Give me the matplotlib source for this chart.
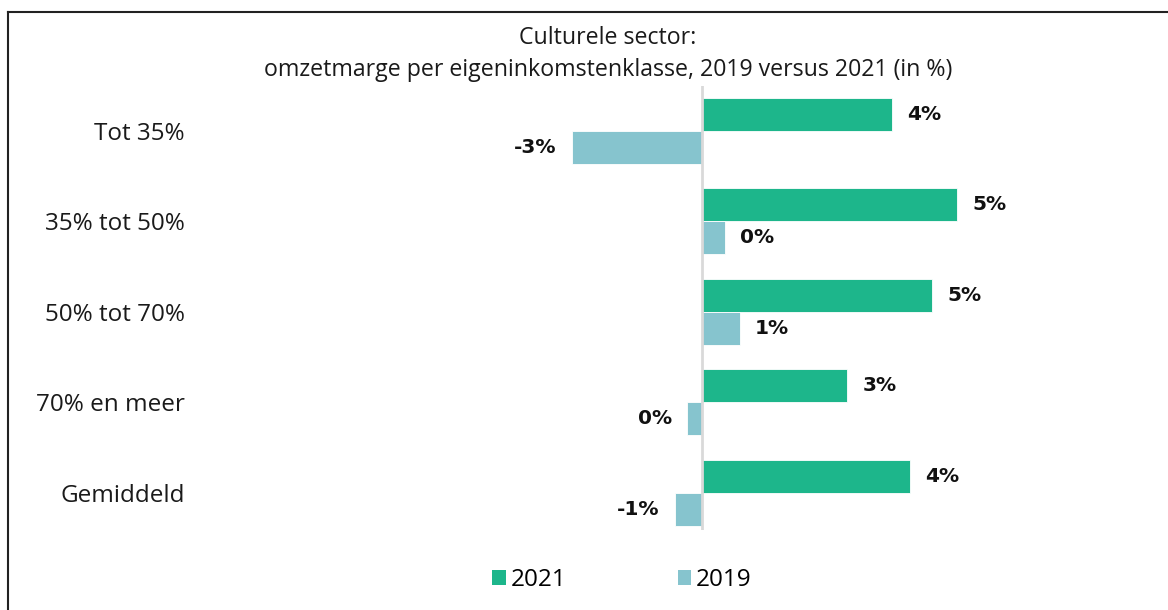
import matplotlib
matplotlib.use("Agg")
import matplotlib.pyplot as plt
from matplotlib.patches import Patch
from matplotlib.lines import Line2D
import numpy as np

categories = ["Tot 35%", "35% tot 50%", "50% tot 70%", "70% en meer", "Gemiddeld"]
values_2021 = [3.8, 5.1, 4.6, 2.9, 4.15]
values_2019 = [-2.6, 0.45, 0.75, -0.3, -0.55]
series_names = ["2021", "2019"]
title_lines = ["Culturele sector:", "omzetmarge per eigeninkomstenklasse, 2019 versus 2021 (in %)"]

green = "#1DB68B"
blue = "#86C4CE"
FONT = "Open Sans"

W, H = 1168, 610
fig = plt.figure(figsize=(W / 100, H / 100), dpi=100)

ax_left, ax_right = 200, 1160
ax_top, ax_bottom = 86, 530
ax = fig.add_axes([ax_left / W, 1 - ax_bottom / H, (ax_right - ax_left) / W, (ax_bottom - ax_top) / H])

pxper = 50.0
zero_px = 702
ax.set_xlim(-(zero_px - ax_left) / pxper, (ax_right - zero_px) / pxper)
grp_px = 90.4
first_px = 131
ax.set_ylim((ax_bottom - first_px) / grp_px, (ax_top - first_px) / grp_px)

y = np.arange(len(categories))
bh = 33 / grp_px
ax.barh(y - bh / 2, values_2021, height=bh, color=green, edgecolor="white", linewidth=0.6, zorder=2)
ax.barh(y + bh / 2, values_2019, height=bh, color=blue, edgecolor="white", linewidth=0.6, zorder=2)
ax.axvline(0, color="#D9D9D9", lw=2, zorder=3)

for vals, off in ((values_2021, -bh / 2), (values_2019, bh / 2)):
    for i, v in enumerate(vals):
        lab = f"{int(round(v))}%"
        if v >= 0:
            ax.annotate(lab, (v, i + off), xytext=(11, 0), textcoords="offset points",
                        ha="left", va="center", fontsize=14.5, fontweight="bold",
                        family="DejaVu Sans", color="#111111")
        else:
            ax.annotate(lab, (v, i + off), xytext=(-11, 0), textcoords="offset points",
                        ha="right", va="center", fontsize=14.5, fontweight="bold",
                        family="DejaVu Sans", color="#111111")

ax.set_yticks(y)
ax.set_yticklabels(categories, family=FONT, fontsize=17.5, color="#1a1a1a")
ax.tick_params(axis="y", length=0, pad=11)
ax.set_xticks([])
for s in ax.spines.values():
    s.set_visible(False)

fig.text(608 / W, 1 - 38 / H, title_lines[0], ha="center", va="center", family=FONT, fontsize=16.7, color="#1a1a1a")
fig.text(608 / W, 1 - 70 / H, title_lines[1], ha="center", va="center", family=FONT, fontsize=16.7, color="#1a1a1a")

handles = [Patch(facecolor=green, edgecolor="none"), Patch(facecolor=blue, edgecolor="none")]
fig.legend(handles, series_names, loc="center", bbox_to_anchor=(622 / W, 1 - 580 / H), ncol=2,
           frameon=False, prop={"family": FONT, "size": 17.5}, handlelength=0.55, handleheight=0.55,
           handletextpad=0.2, columnspacing=4.6)

fig.add_artist(Line2D([7.5 / W, 7.5 / W], [0, 1 - 12 / H], transform=fig.transFigure, color="#222222", lw=1.5))
fig.add_artist(Line2D([7.5 / W, 1], [1 - 12 / H, 1 - 12 / H], transform=fig.transFigure, color="#222222", lw=1.5))

fig.savefig("out.png", dpi=100)
